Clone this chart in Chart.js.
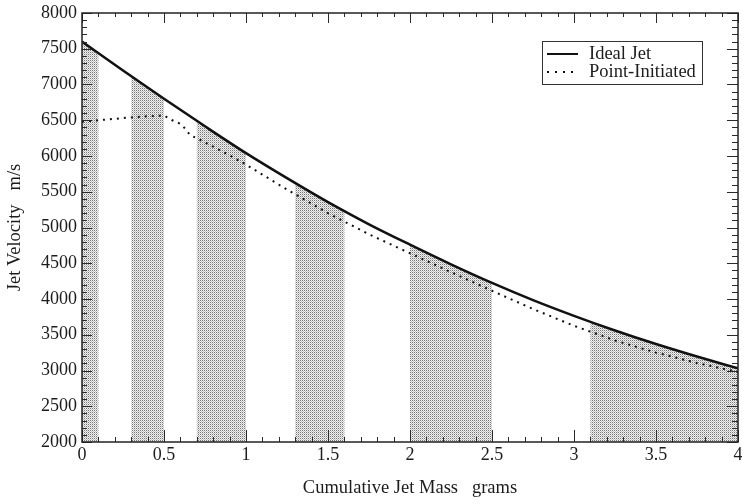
<!DOCTYPE html>
<html><head><meta charset="utf-8">
<script src="https://cdn.jsdelivr.net/npm/chart.js@4"></script>
<style>html,body{margin:0;padding:0;background:#fff}#wrap{width:742px;height:504px}</style>
</head><body><div id="wrap"><canvas id="c" width="742" height="504"></canvas></div>
<script>
// ---- data ----
const massIdeal = [0, 0.25, 0.5, 0.75, 1.0, 1.25, 1.5, 1.75, 2.0, 2.25, 2.5, 2.75, 3.0, 3.25, 3.5, 3.75, 4.0];
const velIdeal  = [7600, 7195, 6800, 6415, 6040, 5690, 5355, 5045, 4760, 4485, 4225, 3985, 3765, 3560, 3370, 3195, 3030];
const massPoint = [0, 0.1, 0.2, 0.3, 0.4, 0.5, 0.55, 0.6, 0.63, 0.66, 0.7, 0.8, 0.9, 1.0, 1.25, 1.5, 1.75, 2.0, 2.25, 2.5, 2.75, 3.0, 3.25, 3.5, 3.75, 4.0];
const velPoint  = [6480, 6500, 6520, 6540, 6555, 6565, 6500, 6450, 6380, 6290, 6250, 6130, 6010, 5880, 5530, 5200, 4905, 4640, 4375, 4115, 3860, 3625, 3420, 3250, 3105, 2980];
const shadedBands = [[0, 0.1], [0.3, 0.5], [0.7, 1.0], [1.3, 1.6], [2.0, 2.5], [3.1, 4.0]];
const seriesNames = ['Ideal Jet', 'Point-Initiated'];
const xTickValues = [0, 0.5, 1, 1.5, 2, 2.5, 3, 3.5, 4];
const xTickLabels = ['0', '0.5', '1', '1.5', '2', '2.5', '3', '3.5', '4'];
const yTickValues = [2000, 2500, 3000, 3500, 4000, 4500, 5000, 5500, 6000, 6500, 7000, 7500, 8000];
const yTickLabels = ['2000', '2500', '3000', '3500', '4000', '4500', '5000', '5500', '6000', '6500', '7000', '7500', '8000'];
const xTitle = 'Cumulative Jet Mass   grams';
const yTitle = 'Jet Velocity   m/s';

const FONT = '"Liberation Serif", "Times New Roman", serif';
const INK = '#1c1c1c';

function makePattern(ctx) {
  const c = document.createElement('canvas'); c.width = 2; c.height = 2;
  const g = c.getContext('2d');
  g.fillStyle = '#f0f0f0'; g.fillRect(0, 0, 2, 2);
  g.fillStyle = '#777777'; g.fillRect(0, 0, 1, 1);
  g.fillStyle = '#c2c2c2'; g.fillRect(1, 1, 1, 1);
  return ctx.createPattern(c, 'repeat');
}

const shadePlugin = {
  id: 'shade',
  beforeDatasetsDraw(chart) {
    const ctx = chart.ctx, area = chart.chartArea, xs = chart.scales.x;
    const meta = chart.getDatasetMeta(0);
    const line = meta.dataset;
    const pts = meta.data;
    if (!line || !pts.length) return;
    line.updateControlPoints(area, 'x');
    const pattern = makePattern(ctx);
    ctx.save();
    ctx.beginPath();
    shadedBands.forEach(([a, b]) => {
      const x0 = xs.getPixelForValue(a), x1 = xs.getPixelForValue(b);
      ctx.rect(x0, area.top, x1 - x0, area.bottom - area.top);
    });
    ctx.clip();
    ctx.beginPath();
    line.path(ctx);
    ctx.lineTo(pts[pts.length - 1].x, area.bottom);
    ctx.lineTo(pts[0].x, area.bottom);
    ctx.closePath();
    ctx.fillStyle = pattern;
    ctx.fill();
    ctx.restore();
  }
};

const framePlugin = {
  id: 'frame',
  afterDatasetsDraw(chart) {
    const ctx = chart.ctx, a = chart.chartArea, xs = chart.scales.x, ys = chart.scales.y;
    ctx.save();
    ctx.strokeStyle = '#2a2a2a';
    ctx.lineWidth = 1;
    ctx.beginPath();
    for (let i = 0; i <= 40; i++) {
      const v = i / 10;
      const px = Math.round(xs.getPixelForValue(v)) + 0.5;
      const major = i % 5 === 0;
      ctx.moveTo(px, a.bottom); ctx.lineTo(px, a.bottom - (major ? 12 : 5));
      ctx.moveTo(px, a.top); ctx.lineTo(px, a.top + (major ? 10 : 4));
    }
    for (let i = 20; i <= 80; i++) {
      const v = i * 100;
      const py = Math.round(ys.getPixelForValue(v)) + 0.5;
      const major = i % 5 === 0;
      ctx.moveTo(a.left, py); ctx.lineTo(a.left + (major ? 10 : 5), py);
      ctx.moveTo(a.right, py); ctx.lineTo(a.right - (major ? 11 : 6), py);
    }
    ctx.stroke();
    ctx.lineWidth = 1.5;
    ctx.strokeStyle = '#222';
    ctx.strokeRect(a.left, a.top, a.right - a.left, a.bottom - a.top);
    ctx.restore();
  },
  afterDraw(chart) {
    const ctx = chart.ctx;
    const ds = chart.data.datasets;
    ctx.save();
    const bx = 542, by = 41, bw = 160, bh = 43;
    ctx.fillStyle = '#fff';
    ctx.fillRect(bx, by, bw, bh);
    ctx.strokeStyle = '#333';
    ctx.lineWidth = 1;
    ctx.strokeRect(bx + 0.5, by + 0.5, bw, bh);
    const rows = [54, 72];
    ds.forEach((d, i) => {
      const y = rows[i];
      ctx.beginPath();
      ctx.strokeStyle = d.borderColor;
      ctx.lineWidth = 2;
      ctx.setLineDash(i === 0 ? [] : [2, 6]);
      ctx.moveTo(547, y); ctx.lineTo(578, y);
      ctx.stroke();
      ctx.setLineDash([]);
      ctx.fillStyle = INK;
      ctx.font = '18.5px ' + FONT;
      ctx.textBaseline = 'middle';
      ctx.textAlign = 'left';
      ctx.fillText(d.label, 589, y);
    });
    ctx.restore();
  }
};

new Chart(document.getElementById('c'), {
  type: 'scatter',
  data: {
    datasets: [
      {
        label: seriesNames[0],
        data: massIdeal.map((m, i) => ({ x: m, y: velIdeal[i] })),
        showLine: true,
        borderColor: '#111',
        borderWidth: 2.5,
        pointRadius: 0,
        cubicInterpolationMode: 'monotone',
        fill: false
      },
      {
        label: seriesNames[1],
        data: massPoint.map((m, i) => ({ x: m, y: velPoint[i] })),
        showLine: true,
        borderColor: '#111',
        borderWidth: 2,
        borderDash: [2, 5],
        pointRadius: 0,
        tension: 0,
        fill: false
      }
    ]
  },
  options: {
    responsive: false,
    devicePixelRatio: 1,
    animation: false,
    events: [],
    layout: { padding: { left: 0, right: 4, top: 13, bottom: 0 } },
    plugins: { legend: { display: false }, tooltip: { enabled: false } },
    scales: {
      x: {
        type: 'linear', min: 0, max: 4,
        grid: { display: false, drawTicks: false },
        border: { display: false },
        afterBuildTicks: s => { s.ticks = xTickValues.map(v => ({ value: v })); },
        afterFit: s => { s.height = 62; s.paddingLeft = 0; s.paddingRight = 4; },
        ticks: {
          padding: 2, color: INK, maxRotation: 0, autoSkip: false,
          font: { family: FONT, size: 18 },
          callback: v => xTickLabels[xTickValues.indexOf(v)]
        },
        title: { display: true, text: xTitle, color: INK, font: { family: FONT, size: 18.5 }, padding: { top: 0, bottom: 5 } }
      },
      y: {
        type: 'linear', min: 2000, max: 8000,
        grid: { display: false, drawTicks: false },
        border: { display: false },
        afterBuildTicks: s => { s.ticks = yTickValues.map(v => ({ value: v })); },
        afterFit: s => { s.width = 82; s.paddingTop = 0; s.paddingBottom = 0; },
        ticks: {
          padding: 5, color: INK, autoSkip: false,
          font: { family: FONT, size: 18 },
          callback: v => yTickLabels[yTickValues.indexOf(v)]
        },
        title: { display: true, text: yTitle, color: INK, font: { family: FONT, size: 18.5 }, padding: { top: 4, bottom: 0 } }
      }
    }
  },
  plugins: [shadePlugin, framePlugin]
});
</script>
</body></html>
